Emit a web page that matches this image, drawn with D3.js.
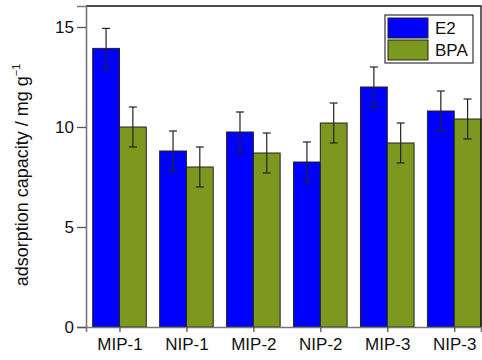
<!DOCTYPE html>
<html>
<head>
<meta charset="utf-8">
<script src="https://cdn.jsdelivr.net/npm/d3@7"></script>
<style>
  body { margin: 0; background: #fff; }
  svg { display: block; font-family: "Liberation Sans", Arial, sans-serif; }
</style>
</head>
<body>
<svg class="chart" width="482" height="360"></svg>
<script>
var categories = ['MIP-1', 'NIP-1', 'MIP-2', 'NIP-2', 'MIP-3', 'NIP-3'];
var seriesNames = ['E2', 'BPA'];
var e2Values = [13.93, 8.8, 9.75, 8.25, 12.0, 10.8];
var e2Errors = [1.0, 1.0, 1.0, 1.0, 1.0, 1.0];
var bpaValues = [10.0, 8.0, 8.7, 10.2, 9.2, 10.4];
var bpaErrors = [1.0, 1.0, 1.0, 1.0, 1.0, 1.0];
var yTicks = [0, 5, 10, 15];

var svg = d3.select('svg.chart');
var colors = { E2: '#0000ff', BPA: '#7c981e' };

var plotLeft = 86, plotRight = 481, plotTop = 6, plotBottom = 327;

var x = d3.scaleLinear().domain([0.5, 6.4]).range([plotLeft, plotRight]);
var y = d3.scaleLinear().domain([0, 16.05]).range([plotBottom, plotTop]);
var barW = 0.4;

var rows = [];
categories.forEach(function (c, i) {
    rows.push({ cat: i + 1, series: 'E2', value: e2Values[i], err: e2Errors[i], offset: -barW });
    rows.push({ cat: i + 1, series: 'BPA', value: bpaValues[i], err: bpaErrors[i], offset: 0 });
});

// bars
svg.selectAll('.bar')
    .data(rows)
    .enter()
    .append('rect')
    .attr('class', 'bar')
    .attr('x', function (d) { return x(d.cat + d.offset); })
    .attr('y', function (d) { return y(d.value); })
    .attr('width', function (d) { return x(d.cat + d.offset + barW) - x(d.cat + d.offset); })
    .attr('height', function (d) { return y(0) - y(d.value); })
    .attr('fill', function (d) { return colors[d.series]; })
    .attr('stroke', '#222')
    .attr('stroke-width', 1);

// error bars
var err = svg.selectAll('.err')
    .data(rows)
    .enter()
    .append('g')
    .attr('class', 'err')
    .attr('stroke', '#222')
    .attr('stroke-width', 1.2);
err.append('line')
    .attr('x1', function (d) { return x(d.cat + d.offset + barW / 2); })
    .attr('x2', function (d) { return x(d.cat + d.offset + barW / 2); })
    .attr('y1', function (d) { return y(d.value - d.err); })
    .attr('y2', function (d) { return y(d.value + d.err); });
[1, -1].forEach(function (s) {
    err.append('line')
        .attr('x1', function (d) { return x(d.cat + d.offset + barW / 2) - 4; })
        .attr('x2', function (d) { return x(d.cat + d.offset + barW / 2) + 4; })
        .attr('y1', function (d) { return y(d.value + s * d.err); })
        .attr('y2', function (d) { return y(d.value + s * d.err); });
});

// frame top / right
svg.append('path')
    .attr('d', 'M' + plotLeft + ',' + plotTop + 'H' + plotRight + 'V' + plotBottom)
    .attr('fill', 'none')
    .attr('stroke', '#111')
    .attr('stroke-width', 1.3);

// axes
var yAxis = svg.append('g')
    .attr('transform', 'translate(' + plotLeft + ',0)')
    .call(d3.axisLeft(y).tickValues(yTicks).tickSize(9).tickPadding(3));
var xAxis = svg.append('g')
    .attr('transform', 'translate(0,' + plotBottom + ')')
    .call(d3.axisBottom(x).tickValues(d3.range(1, 7)).tickSize(5).tickPadding(6)
        .tickFormat(function (d) { return categories[d - 1]; }));
[yAxis, xAxis].forEach(function (a) {
    a.select('.domain').attr('stroke', '#777').attr('stroke-width', 1.6);
    a.selectAll('.tick line').attr('stroke', '#555').attr('stroke-width', 1.3);
    a.selectAll('.tick text').attr('fill', '#111').style('font-size', '17px');
});

// y label
var ylab = svg.append('text')
    .attr('transform', 'translate(28,175) rotate(-90)')
    .attr('text-anchor', 'middle')
    .attr('fill', '#111')
    .style('font-size', '18px');
ylab.append('tspan').text('adsorption capacity / mg g');
ylab.append('tspan').attr('dy', -8).style('font-size', '11px').text('\u22121');

// legend
var legend = svg.append('g').attr('transform', 'translate(385,15)');
legend.append('rect')
    .attr('width', 88).attr('height', 48)
    .attr('fill', '#fff').attr('stroke', '#333').attr('stroke-width', 1.2);
seriesNames.forEach(function (name, i) {
    legend.append('rect')
        .attr('x', 3).attr('y', 3 + i * 22)
        .attr('width', 40).attr('height', 20)
        .attr('fill', colors[name]).attr('stroke', '#222');
    legend.append('text')
        .attr('x', 50).attr('y', 19 + i * 22)
        .attr('fill', '#111')
        .style('font-size', '17px')
        .text(name);
});
</script>
</body>
</html>
